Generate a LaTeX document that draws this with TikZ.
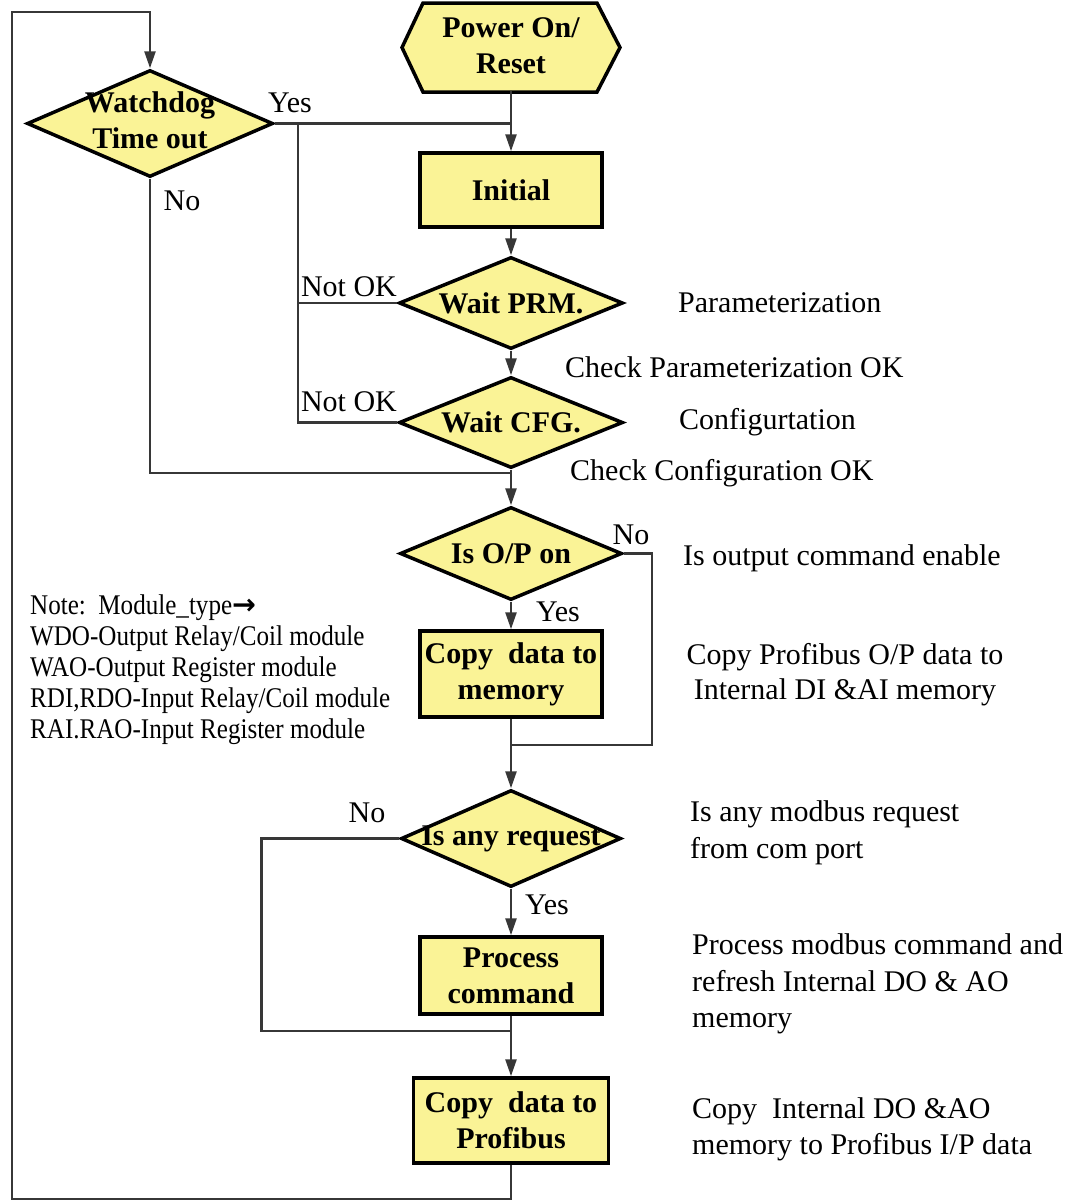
\documentclass[tikz,border=0pt]{standalone}
\usepackage{fontspec}
\setmainfont{Liberation Serif}
\newfontfamily\symfont{DejaVu Sans}
\newfontfamily\notefont[FakeStretch=0.88]{Liberation Serif}
\usetikzlibrary{shapes.geometric,arrows.meta}
\definecolor{boxyellow}{RGB}{250,243,150}
\definecolor{linegray}{RGB}{55,55,55}
\newcommand{\zw}[1]{\makebox[0pt][c]{#1}}
\begin{document}
\begin{tikzpicture}[x=1pt,y=-1pt,
  boxtext/.style={font=\bfseries\fontsize{30}{36}\selectfont, align=center},
  procbox/.style={boxtext, draw=black, line width=3.5pt, fill=boxyellow, inner sep=0pt},
  decbox/.style={boxtext, diamond, draw=black, line width=3.5pt, fill=boxyellow, inner sep=0pt},
  conn/.style={line width=2.5pt, draw=linegray},
  arr/.style={conn, -{Triangle[length=17pt,width=11pt]}},
  lbl/.style={font=\fontsize{30}{36}\selectfont, inner sep=0pt, align=left},
  notetext/.style={font=\notefont\fontsize{28.5}{31}\selectfont, inner sep=0pt, align=left}
]
\useasboundingbox (0,0) rectangle (1067,1202);
\fill[white] (0,0) rectangle (1067,1202);

% hexagon start shape
\filldraw[draw=black, line width=3.5pt, fill=boxyellow, line join=miter]
  (402,47.5) -- (423,3) -- (597,3) -- (620,47.5) -- (597,92) -- (423,92) -- cycle;
\node[boxtext, minimum width=218, minimum height=89, inner sep=0pt] (pwr) at (511,46) {Power On/\\Reset};

% process boxes
\node[procbox, minimum width=182, minimum height=74] (init) at (511,190) {Initial};
\node[procbox, minimum width=182, minimum height=86] (mem) at (511,674) {Copy\ \ data to\\memory};
\node[procbox, minimum width=182, minimum height=77] (proc) at (511,975.5) {Process\\command};
\node[procbox, minimum width=195, minimum height=85] (prof) at (511,1120.5) {Copy\ \ data to\\Profibus};

% decisions
\node[decbox, minimum width=246, minimum height=107] (wd) at (150,123.5)
  {\zw{\begin{tabular}{@{}c@{}}Watchdog\\Time out\end{tabular}}};
\node[decbox, minimum width=224, minimum height=92] (prm) at (511,303) {\zw{Wait PRM.}};
\node[decbox, minimum width=224, minimum height=91] (cfg) at (511,422.5) {\zw{Wait CFG.}};
\node[decbox, minimum width=222, minimum height=93] (op) at (511,553.5) {\zw{Is O/P on}};
\node[decbox, minimum width=220, minimum height=97] (req) at (511,838.5) {\zw{Is any request}};

% junction coordinates
\coordinate (j1) at (298,123.5);
\coordinate (j2) at (511,473);
\coordinate (j3) at (511,745);
\coordinate (j4) at (511,1031);
\coordinate (c1) at (12,1199);
\coordinate (c2) at (12,12);

% connectors
\draw[arr] (pwr.south) -- (init.north);
\draw[conn] (wd.east) -- (wd.east -| init.north);
\draw[arr] (init.south) -- (prm.north);
\draw[arr] (prm.south) -- (cfg.north);
\draw[conn] (prm.west) -- (prm.west -| j1);
\draw[conn] (cfg.west) -| (j1);
\draw[conn] (wd.south) |- (j2);
\draw[arr] (cfg.south) -- (op.north);
\draw[arr] (op.south) -- (mem.north);
\draw[conn] (op.east) -- ++(28,0) |- (j3);
\draw[arr] (mem.south) -- (req.north);
\draw[arr] (req.south) -- (proc.north);
\draw[conn] (req.west) -- ++(-138,0) |- (j4);
\draw[arr] (proc.south) -- (prof.north);
\draw[arr] (prof.south) |- (c1) -- (c2) -| (wd.north);

% branch labels
\node[lbl] (ywd) at (290,103) {Yes};
\node[lbl] (nwd) at (182,201) {No};
\node[lbl] (nok1) at (349,287) {Not OK};
\node[lbl] (nok2) at (349,402) {Not OK};
\node[lbl] (nop) at (631,535) {No};
\node[lbl] (yop) at (558,612) {Yes};
\node[lbl] (nreq) at (367,813) {No};
\node[lbl] (yreq) at (547,905) {Yes};

% descriptions
\node[lbl, anchor=west] (d1) at (678,303) {Parameterization};
\node[lbl, anchor=west] (d2) at (565,367) {Check Parameterization OK};
\node[lbl, anchor=west] (d3) at (679,422) {Configurtation};
\node[lbl, anchor=west] (d4) at (570,473) {Check Configuration OK};
\node[lbl, anchor=west] (d5) at (683,558) {Is output command enable};
\node[lbl, align=center, font=\fontsize{30}{35}\selectfont] (d6) at (845,675) {Copy Profibus O/P data to\\Internal DI \&AI memory};
\node[lbl, anchor=west, font=\fontsize{30}{37}\selectfont] (d7) at (690,833) {Is any modbus request\\from com port};
\node[lbl, anchor=west, font=\fontsize{30}{36.5}\selectfont] (d8) at (692,984) {Process modbus command and\\refresh Internal DO \& AO\\memory};
\node[lbl, anchor=west, font=\fontsize{30}{36}\selectfont] (d9) at (692,1129) {Copy\ \ Internal DO \&AO\\memory to Profibus I/P data};

% note
\node[notetext, anchor=west] (note) at (30,670)
  {Note:\ \ Module\_type{\symfont\bfseries →}\\
   WDO-Output Relay/Coil module\\
   WAO-Output Register module\\
   RDI,RDO-Input Relay/Coil module\\
   RAI.RAO-Input Register module};
\end{tikzpicture}
\end{document}
